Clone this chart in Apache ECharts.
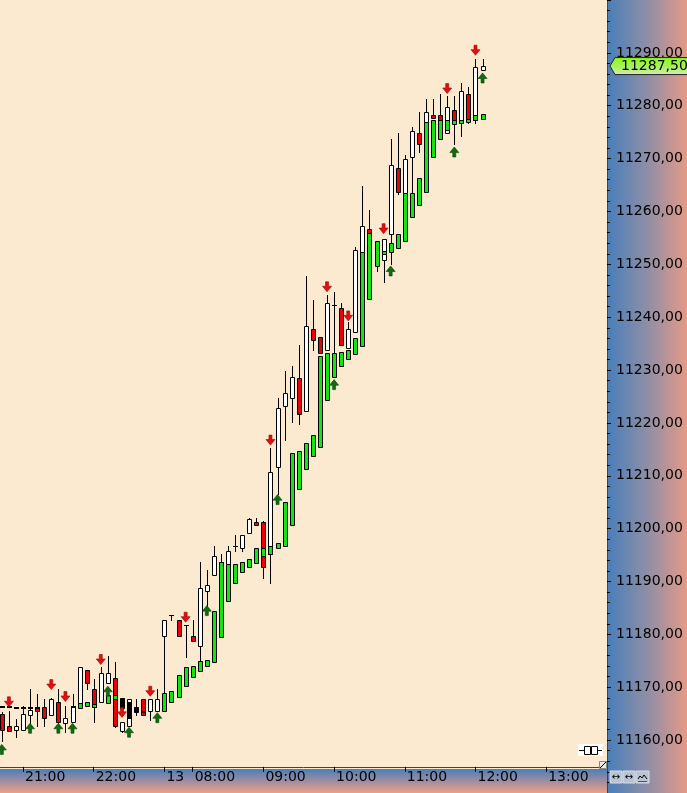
<!DOCTYPE html>
<html>
<head>
<meta charset="utf-8">
<script src="https://cdn.jsdelivr.net/npm/echarts@6/dist/echarts.min.js"></script>
<style>html,body{margin:0;padding:0;background:#FCEAD0;}#c{width:687px;height:793px;}</style>
</head>
<body>
<div id="c"></div>
<script>
// ---- data (bar index = 6-minute bars) ----
const wrOpen  = [11165.0,11162.75,11162.0,11162.0,11164.75,11166.25,11166.25,11164.75,11167.25,11163.25,11163.5,11166.75,11173.25,11169.75,11167.25,11170.75,11171.75,11161.75,11162.75,11165.75,11167.75,11165.5,11165.5,11179.75,11183.75,11182.75,11181.75,11179.75,11177.75,11188.25,11191.25,11193.25,11193.25,11196.75,11196.25,11199.25,11201.25,11201.25,11195.25,11211.75,11223.25,11224.75,11228.5,11222.25,11237.75,11236.25,11233.75,11242.25,11241.75,11234.25,11237.25,11252.25,11256.75,11250.0,11250.75,11255.75,11268.25,11263.5,11270.25,11274.75,11277.0,11278.25,11278.25,11274.75,11279.25,11276.75,11282.25,11277.25,11286.75];
const wrClose = [11162.0,11161.75,11162.75,11165.0,11165.75,11165.5,11164.25,11167.75,11163.5,11164.25,11166.5,11173.75,11170.75,11166.25,11172.75,11172.75,11162.75,11163.5,11167.75,11165.5,11164.75,11167.75,11167.75,11182.75,11183.75,11179.75,11181.75,11178.75,11188.75,11189.25,11194.75,11193.75,11195.75,11196.75,11198.75,11201.75,11200.75,11192.75,11210.75,11222.75,11225.75,11228.75,11221.75,11238.25,11235.75,11233.25,11242.75,11242.25,11234.75,11237.75,11252.75,11257.25,11256.0,11254.0,11254.75,11268.75,11263.75,11270.0,11275.25,11272.75,11278.75,11277.75,11277.0,11279.75,11277.0,11282.75,11277.5,11287.25,11287.5];
const wrHigh  = [11165.25,11165.5,11164.0,11166.5,11169.75,11168.75,11167.75,11168.0,11169.75,11166.5,11168.75,11173.75,11173.25,11171.5,11173.75,11176.0,11174.75,11163.5,11167.75,11167.75,11167.75,11167.75,11169.75,11182.75,11183.75,11182.75,11181.75,11182.75,11193.75,11192.25,11196.75,11195.25,11196.75,11198.75,11198.75,11202.0,11202.0,11201.5,11215.25,11224.75,11229.75,11230.75,11234.75,11247.75,11243.25,11236.25,11244.25,11244.75,11242.75,11239.0,11253.25,11264.75,11260.25,11254.5,11254.75,11273.75,11274.75,11270.75,11276.0,11278.75,11281.25,11281.25,11282.25,11281.75,11281.75,11284.25,11283.5,11288.75,11288.75];
const wrLow   = [11159.75,11161.75,11160.5,11162.0,11162.75,11162.75,11162.75,11164.75,11163.0,11161.5,11163.5,11166.75,11169.75,11163.5,11167.25,11170.75,11162.5,11161.5,11162.75,11164.75,11164.75,11163.75,11165.5,11169.0,11182.75,11179.75,11175.75,11178.75,11175.0,11185.0,11191.25,11193.25,11193.25,11195.75,11195.75,11199.25,11200.75,11190.75,11189.75,11206.5,11216.75,11220.25,11219.75,11222.25,11233.75,11233.25,11233.75,11233.25,11234.75,11234.25,11237.25,11252.25,11256.0,11248.75,11246.75,11250.0,11263.25,11263.5,11263.25,11271.25,11277.0,11277.75,11277.0,11274.75,11272.75,11274.25,11276.75,11276.75,11286.75];

// second (green / black) body series, null = no body
const gOpen  = [11166.5,11166.5,11166.25,11166.25,11166.25,11166.25,null,null,null,null,11166.5,11166.0,11166.5,11166.25,null,11167.0,11167.75,11168.0,11167.25,11166.25,11165.5,null,null,11165.5,11167.25,11168.25,11170.25,11172.0,11173.0,11174.0,11174.75,11179.5,11186.25,11189.75,11191.75,11192.75,11193.5,11194.75,11195.25,11196.25,11196.75,11200.75,11207.5,11211.25,11213.75,11215.5,11224.25,11228.75,11230.75,11232.0,11233.0,11234.5,11243.5,11249.75,11252.0,11252.25,11253.0,11254.5,11259.0,11261.25,11263.75,11270.25,11273.75,11275.5,11276.5,11276.75,11277.0,11277.25,11277.5];
const gClose = [11166.5,11166.5,11166.25,11166.25,11166.25,11166.25,null,null,null,null,11166.5,11167.0,11167.25,11166.75,null,11168.5,11168.5,11166.0,11164.25,11165.25,11165.5,null,null,11169.0,11169.25,11172.25,11173.75,11174.0,11175.0,11175.25,11184.5,11193.75,11193.25,11193.25,11193.75,11194.25,11196.25,11196.25,11196.75,11197.25,11205.0,11214.25,11214.75,11216.25,11217.75,11232.75,11233.25,11233.25,11233.5,11233.75,11236.0,11252.25,11256.0,11254.5,11252.5,11254.0,11255.75,11263.5,11263.5,11266.25,11277.0,11277.25,11277.25,11277.25,11277.25,11277.25,11277.5,11278.25,11278.5];

// signal arrows
const sellIdx   = [1,7,9,14,17,21,26,38,46,49,54,63,67];
const sellPrice = [11167.25,11170.5,11168.25,11175.25,11165.25,11169.25,11183.25,11216.75,11245.75,11240.25,11256.75,11283.25,11290.5];
const buyIdx    = [0,4,8,10,15,18,22,29,39,47,55,64,68];
const buyPrice  = [11158.25,11162.25,11162.25,11162.25,11169.25,11161.5,11164.25,11184.5,11205.5,11227.25,11248.75,11271.25,11285.25];

// axis ticks
const xTickIdx    = [3,13,23,27,37,47,57,67,77];
const xTickLabels = ['21:00','22:00','13','08:00','09:00','10:00','11:00','12:00','13:00'];
const lastPrice = 11287.5;

const FONT = 'DejaVu Sans';
const chart = echarts.init(document.getElementById('c'), null, {renderer:'canvas'});

const wrData = wrOpen.map((o,i)=>[i,o,wrClose[i],wrLow[i],wrHigh[i]]);
const gData = [];
gOpen.forEach((o,i)=>{ if(o!==null && gClose[i]!==null) gData.push([i,o,gClose[i]]); });

function renderWR(params, api){
  const i=api.value(0), o=api.value(1), c=api.value(2), l=api.value(3), h=api.value(4);
  const pO=api.coord([i,o]), pC=api.coord([i,c]), pH=api.coord([i,h]), pL=api.coord([i,l]);
  const cx=Math.round(pO[0]);
  const yO=Math.round(pO[1]), yC=Math.round(pC[1]), yH=Math.round(pH[1]), yL=Math.round(pL[1]);
  const top=Math.min(yO,yC), bot=Math.max(yO,yC);
  const ch=[{type:'line',shape:{x1:cx+0.5,y1:yH,x2:cx+0.5,y2:yL+1},style:{stroke:'#000',lineWidth:1}}];
  if(bot-top<1){
    ch.push({type:'line',shape:{x1:cx-2,y1:top+0.5,x2:cx+3,y2:top+0.5},style:{stroke:'#000',lineWidth:1}});
  } else {
    ch.push({type:'rect',shape:{x:cx-1.5,y:top+0.5,width:4,height:bot-top},style:{fill:c>=o?'#FFFFFF':'#E8000B',stroke:'#000',lineWidth:1}});
  }
  return {type:'group',children:ch};
}
function renderG(params, api){
  const i=api.value(0), o=api.value(1), c=api.value(2);
  const pO=api.coord([i,o]), pC=api.coord([i,c]);
  const cx=Math.round(pO[0]);
  const yO=Math.round(pO[1]), yC=Math.round(pC[1]);
  const top=Math.min(yO,yC), bot=Math.max(yO,yC);
  if(bot-top<1){
    return {type:'rect',shape:{x:cx-2,y:top,width:5,height:2},style:{fill:'#000'}};
  }
  return {type:'rect',shape:{x:cx-1.5,y:top+0.5,width:4,height:bot-top},style:{fill:c>=o?'#12E612':'#000',stroke:'#000',lineWidth:1}};
}

const downArrow='path://M3,0 H6 V4 H9 L4.5,9 L0,4 H3 Z';
const upArrow='path://M4.5,0 L9,5 H6 V9 H3 V5 H0 Z';

const option = {
  backgroundColor:'#FCEAD0',
  animation:false,
  grid:{left:0,right:80,top:-7.0,bottom:-2.15,containLabel:false},
  xAxis:{
    type:'value', min:-0.2546, max:85.60, z:5,
    offset:-26.15,
    axisLine:{show:true,onZero:false,lineStyle:{color:'#E00000',width:1}},
    axisTick:{show:true,customValues:xTickIdx,length:5,lineStyle:{color:'#000'}},
    axisLabel:{customValues:xTickIdx,formatter:(v)=>{const k=xTickIdx.indexOf(Math.round(v));return k>=0?xTickLabels[k]:'';},
      align:'left',padding:[0,0,0,2],margin:4,color:'#000',fontFamily:FONT,fontSize:14},
    splitLine:{show:false}
  },
  yAxis:{
    type:'value', position:'right', min:11150, max:11300, interval:10, z:5,
    axisLine:{show:true,onZero:false,lineStyle:{color:'#E00000',width:1}},
    axisTick:{show:true,length:4,lineStyle:{color:'#000'}},
    minorTick:{show:true,splitNumber:5,length:3,lineStyle:{color:'#000'}},
    axisLabel:{margin:9,color:'#000',fontFamily:FONT,fontSize:14,
      formatter:(v)=> (v<=11150||v>=11300)?'':v.toFixed(2).replace('.',',')},
    splitLine:{show:false}, minorSplitLine:{show:false}
  },
  series:[
    {type:'custom',name:'bars',renderItem:renderWR,data:wrData,encode:{x:0,y:[1,2,3,4]},z:2,silent:true},
    {type:'custom',name:'bodies',renderItem:renderG,data:gData,encode:{x:0,y:[1,2]},z:3,silent:true},
    {type:'scatter',name:'sell',data:sellIdx.map((x,k)=>[x,sellPrice[k]]),symbol:downArrow,symbolSize:[9,10],
      itemStyle:{color:'#E01010',borderColor:'#A00000',borderWidth:0.6,opacity:1},z:4,silent:true},
    {type:'scatter',name:'buy',data:buyIdx.map((x,k)=>[x,buyPrice[k]]),symbol:upArrow,symbolSize:[9,10],
      itemStyle:{color:'#0E6E0E',borderColor:'#064006',borderWidth:0.6,opacity:1},z:4,silent:true}
  ]
};
chart.setOption(option);

const tagY = chart.convertToPixel({yAxisIndex:0}, lastPrice);
const band = (x,y,w,h,grad)=>({type:'rect',shape:{x,y,width:w,height:h},style:{fill:grad},z:-5,silent:true});
const hGrad = new echarts.graphic.LinearGradient(0,0,1,0,[{offset:0,color:'#487FBA'},{offset:0.5,color:'#8E8EA6'},{offset:1,color:'#E59A86'}]);
const vGrad = new echarts.graphic.LinearGradient(0,0,0,1,[{offset:0,color:'#4A7FB8'},{offset:0.55,color:'#A78E9E'},{offset:1,color:'#EE9E88'}]);
const tagGrad = new echarts.graphic.LinearGradient(0,0,0,1,[{offset:0,color:'#86FF10'},{offset:0.55,color:'#A8F060'},{offset:1,color:'#D6EAC0'}]);
chart.setOption({graphic:[
  band(607,0,80,793,hGrad),
  band(0,769,607,24,vGrad),
  // price tag
  {type:'polygon',shape:{points:[[610,tagY],[615,tagY-8.5],[690,tagY-8.5],[690,tagY+8.5],[615,tagY+8.5]]},
    style:{fill:tagGrad,stroke:'#222',lineWidth:1},z:20},
  {type:'text',x:621,y:tagY,style:{text:lastPrice.toFixed(2).replace('.',','),fill:'#000',font:'14px "DejaVu Sans"',verticalAlign:'middle'},z:21},
  // corner buttons
  {type:'rect',shape:{x:610,y:771,width:12,height:12},style:{fill:'#B9C3D3',stroke:'#D8DEE8',lineWidth:1},z:20},
  {type:'rect',shape:{x:623,y:771,width:12,height:12},style:{fill:'#B9C3D3',stroke:'#D8DEE8',lineWidth:1},z:20},
  {type:'rect',shape:{x:636,y:771,width:13,height:12},style:{fill:'#B9C3D3',stroke:'#D8DEE8',lineWidth:1},z:20},
  {type:'text',x:616,y:777,style:{text:'↔',fill:'#000',font:'10px "DejaVu Sans"',align:'center',verticalAlign:'middle'},z:21},
  {type:'text',x:629,y:777,style:{text:'↔',fill:'#000',font:'10px "DejaVu Sans"',align:'center',verticalAlign:'middle'},z:21},
  {type:'polyline',shape:{points:[[638,779],[640,776],[642,778],[644,775],[647,779]]},style:{stroke:'#000',lineWidth:1,fill:null},z:21},
  {type:'line',shape:{x1:638,y1:781.5,x2:647,y2:781.5},style:{stroke:'#555',lineWidth:1},z:21},
  // small icon and resize handle
  {type:'rect',shape:{x:578,y:744,width:25,height:12},style:{fill:'#FFFFFF'},z:20},
  {type:'line',shape:{x1:579,y1:750.5,x2:602,y2:750.5},style:{stroke:'#000',lineWidth:1},z:21},
  {type:'rect',shape:{x:584.5,y:746.5,width:6,height:8},style:{fill:'#FFFFFF',stroke:'#000',lineWidth:1},z:22},
  {type:'rect',shape:{x:591.5,y:746.5,width:6,height:8},style:{fill:'#FFFFFF',stroke:'#000',lineWidth:1},z:22},
  {type:'rect',shape:{x:599.5,y:761.5,width:7,height:7},style:{fill:'#E8E8E8',stroke:'#888',lineWidth:1},z:20},
  {type:'line',shape:{x1:600,y1:768,x2:606,y2:762},style:{stroke:'#000',lineWidth:1},z:21}
]});
</script>
</body>
</html>
